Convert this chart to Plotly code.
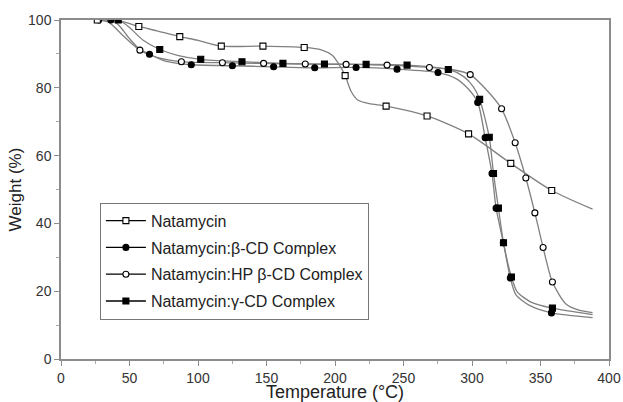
import plotly.graph_objects as go

# ---------------- data ----------------
series_names = ["Natamycin", "Natamycin:β-CD Complex",
                "Natamycin:HP β-CD Complex", "Natamycin:γ-CD Complex"]

# marker positions
nat_mx = [26.5, 56.8, 86.7, 117.0, 147.4, 177.5, 207.4, 237.3, 267.2, 297.5, 328.3, 358.2]
nat_my = [100, 98.1, 95.1, 92.3, 92.3, 91.9, 83.6, 74.6, 71.7, 66.4, 57.7, 49.7]
beta_mx = [36.4, 64.6, 95.1, 125.1, 155.2, 185.2, 215.4, 245.3, 275.2, 304.2, 309.6, 314.6, 317.6, 322.9, 328.0, 358.0]
beta_my = [100, 89.9, 86.8, 86.5, 86.2, 85.9, 86.0, 85.5, 84.5, 75.7, 65.3, 54.7, 44.5, 34.3, 23.9, 13.6]
hp_mx = [27.5, 57.6, 87.9, 117.8, 147.9, 178.3, 208.1, 238.0, 268.9, 298.7, 321.6, 331.5, 339.3, 345.9, 351.9, 358.7]
hp_my = [100, 91.1, 87.7, 87.4, 87.2, 87.0, 86.9, 86.7, 86.0, 83.9, 73.8, 63.8, 53.4, 43.1, 32.9, 22.7]
gam_mx = [41.8, 72.1, 102.0, 132.1, 162.0, 192.3, 222.7, 252.6, 282.7, 305.6, 312.6, 315.7, 319.3, 323.0, 328.8, 358.7]
gam_my = [100, 91.3, 88.4, 87.7, 87.2, 87.0, 86.9, 86.7, 85.4, 76.6, 65.4, 54.7, 44.5, 34.3, 24.2, 15.0]

# curve traces
nat_lx = [25, 35, 45, 56.8, 70, 86.7, 100, 117.0, 147.4, 177.5, 190, 198, 202, 207.4, 211.8, 216.6, 225, 237.3, 267.2, 297.5, 328.3, 358.2, 388]
nat_ly = [100, 100, 99.5, 98.1, 96.8, 95.1, 94.0, 92.3, 92.3, 91.9, 91.2, 89.6, 87.5, 83.6, 78.9, 76.4, 75.3, 74.6, 71.7, 66.4, 57.7, 49.7, 44.2]
beta_lx = [25, 36.4, 42, 50, 57, 64.6, 75, 85, 95.1, 125.1, 155.2, 185.2, 215.4, 245.3, 275.2, 288, 297, 304.2, 309.6, 314.6, 317.6, 322.9, 328.0, 332, 342, 358.0, 388]
beta_ly = [100, 100, 98.5, 94.5, 91.5, 89.9, 88.0, 87.2, 86.8, 86.5, 86.2, 85.9, 86.0, 85.5, 84.5, 82.8, 79.8, 75.7, 65.3, 54.7, 44.5, 34.3, 23.9, 19.0, 15.8, 13.6, 12.2]
hp_lx = [25, 27.5, 35, 45, 57.6, 70, 87.9, 117.8, 147.9, 178.3, 208.1, 238.0, 268.9, 285, 298.7, 311, 321.6, 331.5, 339.3, 345.9, 351.9, 358.7, 368.4, 378, 388]
hp_ly = [100, 100, 99.3, 95.5, 91.1, 89.0, 87.7, 87.4, 87.2, 87.0, 86.9, 86.7, 86.0, 85.4, 83.9, 79.2, 73.8, 63.8, 53.4, 43.1, 32.9, 22.7, 16.3, 14.4, 13.7]
gam_lx = [25, 41.8, 50, 60, 72.1, 85, 102.0, 132.1, 162.0, 192.3, 222.7, 252.6, 282.7, 294, 301, 305.6, 312.6, 315.7, 319.3, 323.0, 328.8, 333, 343, 358.7, 388]
gam_ly = [100, 100, 97.8, 94.0, 91.3, 89.6, 88.4, 87.7, 87.2, 87.0, 86.9, 86.7, 85.4, 83.3, 80.3, 76.6, 65.4, 54.7, 44.5, 34.3, 24.2, 19.8, 16.8, 15.0, 13.1]

x_ticks = [0, 50, 100, 150, 200, 250, 300, 350, 400]
y_ticks = [0, 20, 40, 60, 80, 100]

# ---------------- styling ----------------
LINE_COLOR = "#808080"
FONT = "Liberation Sans, Arial, Helvetica, sans-serif"
symbols = ["square", "circle", "circle", "square"]
fills = ["white", "black", "white", "black"]

curves = [(nat_lx, nat_ly), (beta_lx, beta_ly), (hp_lx, hp_ly), (gam_lx, gam_ly)]
marks = [(nat_mx, nat_my), (beta_mx, beta_my), (hp_mx, hp_my), (gam_mx, gam_my)]

fig = go.Figure()

for lx, ly in curves:
    fig.add_trace(go.Scatter(x=lx, y=ly, mode="lines",
                             line=dict(color=LINE_COLOR, width=1.3, shape="spline", smoothing=0.7),
                             showlegend=False, hoverinfo="skip"))

draw_order = [2, 0, 3, 1]
for i in draw_order:
    mx, my = marks[i]
    fig.add_trace(go.Scatter(x=mx, y=my, mode="markers",
                             marker=dict(symbol=symbols[i], size=6, color=fills[i],
                                         line=dict(color="black", width=1.1)),
                             showlegend=False))

for i, name in enumerate(series_names):
    fig.add_trace(go.Scatter(x=[None], y=[None], mode="lines+markers", name=name,
                             legendgroup=f"g{i}",
                             line=dict(color="black", width=1.3),
                             marker=dict(symbol=symbols[i], size=6, color=fills[i],
                                         line=dict(color="black", width=1.1))))

axis_common = dict(showline=True, linecolor="#8c8c8c", linewidth=1.5, mirror=True,
                   ticks="outside", ticklen=5, tickcolor="#8c8c8c", tickwidth=1.2,
                   showgrid=False, zeroline=False,
                   tickfont=dict(family=FONT, size=14, color="#333333"))

fig.update_layout(
    width=623, height=402,
    margin=dict(l=61, r=13, t=18, b=43),
    paper_bgcolor="white", plot_bgcolor="white",
    font=dict(family=FONT, color="#222222"),
    xaxis=dict(range=[0, 400], tickvals=x_ticks, automargin=False,
               minor=dict(dtick=25, ticks="outside", ticklen=3, tickcolor="#aaaaaa"),
               title=dict(text="Temperature (°C)", font=dict(family=FONT, size=18, color="#222222")),
               **axis_common),
    yaxis=dict(range=[0, 100], tickvals=y_ticks, automargin=True,
               minor=dict(dtick=10, ticks="outside", ticklen=3, tickcolor="#aaaaaa"),
               title=dict(text="Weight (%)", font=dict(family=FONT, size=17, color="#222222"),
                          standoff=2),
               **axis_common),
    legend=dict(x=0.071, y=0.461, xanchor="left", yanchor="top",
                bgcolor="white", bordercolor="#777777", borderwidth=1,
                font=dict(family=FONT, size=16, color="#222222"),
                tracegroupgap=3, itemwidth=40, traceorder="grouped",
                entrywidth=232, entrywidthmode="pixels"),
)

fig.write_html("out.html", config={"displayModeBar": False},
               post_script="document.body.style.margin='0px';")
